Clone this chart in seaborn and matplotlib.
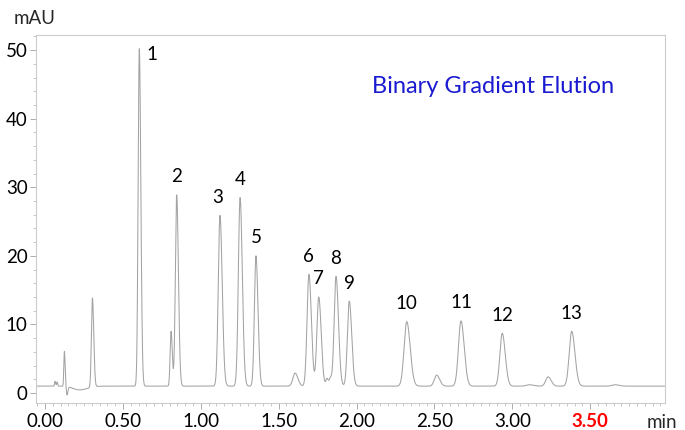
import numpy as np
import pandas as pd
import matplotlib
matplotlib.use('Agg')
import matplotlib.pyplot as plt
import seaborn as sns
from matplotlib.ticker import MultipleLocator

# numbered peaks
peak_names = ['1', '2', '3', '4', '5', '6', '7', '8', '9', '10', '11', '12', '13']
peak_rt = [0.605, 0.845, 1.123, 1.252, 1.354, 1.694, 1.757, 1.868, 1.953, 2.322, 2.670, 2.935, 3.381]
peak_height = [49.2, 27.9, 24.9, 27.5, 19.0, 16.3, 13.0, 16.0, 12.4, 9.4, 9.5, 7.7, 8.0]
peak_sigma = [0.0075, 0.0085, 0.011, 0.011, 0.010, 0.012, 0.012, 0.012, 0.012, 0.017, 0.016, 0.015, 0.016]

# unlabelled peaks, system peaks and baseline disturbances
minor_rt = [0.064, 0.077, 0.124, 0.141, 0.22, 0.304, 0.809, 1.605, 1.810, 1.832, 2.514, 3.110, 3.229, 3.660]
minor_height = [0.7, 0.6, 5.1, -1.2, -0.55, 13.0, 8.0, 1.9, 1.1, 1.1, 1.6, 0.2, 1.35, 0.2]
minor_sigma = [0.003, 0.003, 0.0035, 0.004, 0.04, 0.0065, 0.006, 0.014, 0.007, 0.007, 0.015, 0.02, 0.015, 0.02]

baseline = 1.0
tailing = 1.3
x_min, x_max = -0.058, 3.98

t = np.linspace(x_min, x_max, 14000)


def peak(t, rt, h, s):
    # bi-gaussian, slightly wider on the tail side
    sd = np.where(t < rt, s, s * tailing)
    return h * np.exp(-0.5 * ((t - rt) / sd) ** 2)


signal = np.full_like(t, baseline)
for rt, h, s in zip(peak_rt + minor_rt, peak_height + minor_height, peak_sigma + minor_sigma):
    signal += peak(t, rt, h, s)

df = pd.DataFrame({'min': t, 'mAU': signal})

sns.set_theme(style='white')
plt.rcParams['font.family'] = ['Lato', 'DejaVu Sans']

fig = plt.figure(figsize=(6.85, 4.3), dpi=100)
ax = fig.add_axes([0.0526, 0.0628, 0.9182, 0.8558])

sns.lineplot(data=df, x='min', y='mAU', estimator=None, sort=False,
             color='#a3a3a3', linewidth=0.75, ax=ax)

ax.set_xlim(x_min, x_max)
ax.set_ylim(-1.46, 52.2)
ax.set_xlabel('')
ax.set_ylabel('')

ax.yaxis.set_major_locator(MultipleLocator(10))
ax.yaxis.set_minor_locator(MultipleLocator(2))
ax.set_xticks(np.arange(0, 3.51, 0.5))
ax.set_xticklabels(['%.2f' % v for v in np.arange(0, 3.51, 0.5)])
ax.xaxis.set_minor_locator(MultipleLocator(0.05))

ax.tick_params(axis='both', which='major', direction='out', length=4, width=0.6,
               color='#a0a0a0', labelsize=13.5, labelcolor='black', pad=2,
               bottom=True, left=True)
ax.tick_params(axis='x', which='major', pad=3)
ax.tick_params(axis='both', which='minor', direction='out', length=2.5, width=0.5,
               color='#b0b0b0', bottom=True, left=True)

for sp in ax.spines.values():
    sp.set_color('#cccccc')
    sp.set_linewidth(0.8)

lbl = ax.get_xticklabels()[-1]
lbl.set_color('red')
lbl.set_fontweight('bold')

# peak numbers above each apex
offsets = {'1': (9, -4), '3': (-2, 13)}
for name, rt, h in zip(peak_names, peak_rt, peak_height):
    dx, dy = offsets.get(name, (0, 13))
    ax.annotate(name, xy=(rt, baseline + h), xytext=(dx, dy), textcoords='offset points',
                ha='center', va='center', fontsize=13.5, color='black')

ax.text(0.7266, 0.861, 'Binary Gradient Elution', transform=ax.transAxes,
        ha='center', va='center', fontsize=17, color='#1a1ad0')

fig.text(35 / 685, 1 - 18 / 430, 'mAU', ha='center', va='center', fontsize=13.5)
fig.text(662 / 685, 1 - 422 / 430, 'min', ha='center', va='center', fontsize=13.5)

fig.savefig('out.png', dpi=100)
